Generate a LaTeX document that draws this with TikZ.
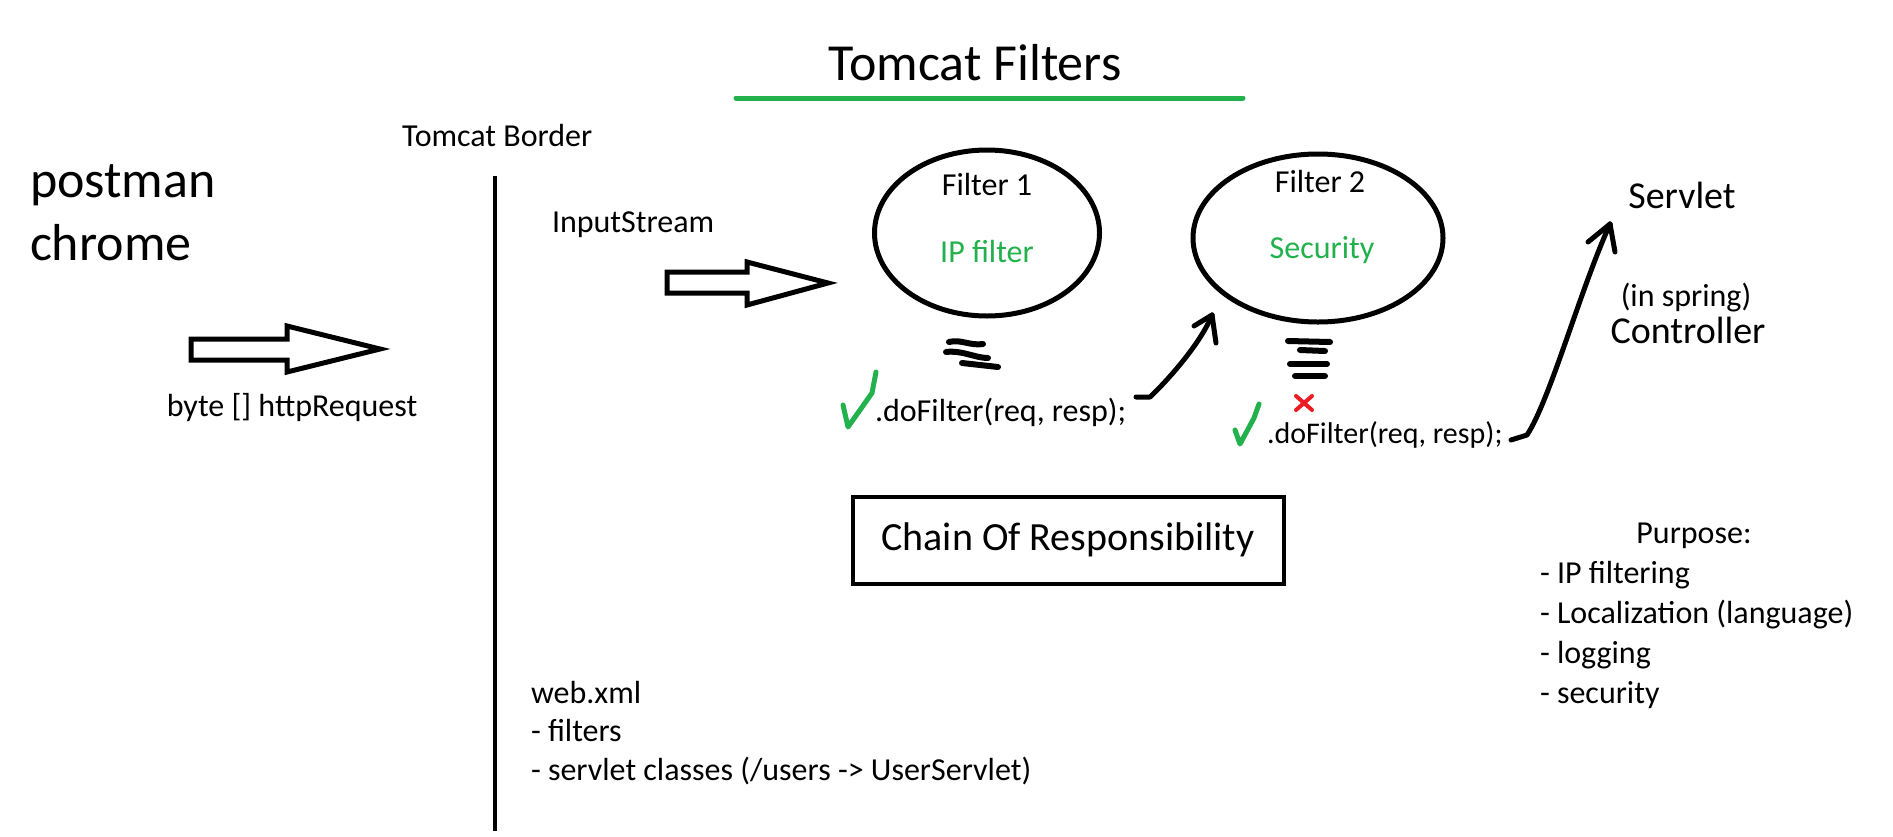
\documentclass[tikz,border=0pt]{standalone}
\usepackage{fontspec}
\setmainfont{Carlito}
\usetikzlibrary{shapes.geometric}
\definecolor{pgreen}{RGB}{34,177,76}
\definecolor{pred}{RGB}{237,28,36}
\newcommand\fsz[2]{\fontsize{#1}{#2}\selectfont}
\begin{document}
\begin{tikzpicture}[x=1pt,y=-1pt,
  txt/.style={inner sep=0pt,outer sep=0pt},
  t32/.style={txt,font=\fsz{32}{40}},
  t30/.style={txt,font=\fsz{30}{38}},
  t38/.style={txt,font=\fsz{38}{46}},
  t52/.style={txt,font=\fsz{52}{62}},
  stroke/.style={line width=5pt,line cap=round,line join=round},
  blockarrow/.style={draw,line width=5pt,line join=miter,fill=white},
  filterell/.style={ellipse,draw,line width=5pt,inner sep=0pt},
  squig/.style={line width=6pt,line cap=round},
  tick/.style={draw=pgreen,line width=5pt,line cap=round,line join=round},
  cross/.style={draw=pred,line width=4pt,line cap=round}]
\useasboundingbox (0,0) rectangle (1893,836);
\fill[white] (0,0) rectangle (1893,836);

% title
\node[t52,anchor=base] (title) at (975,80) {Tomcat Filters};
\coordinate (ulL) at (736,98);
\coordinate (ulR) at (1243,98);
\draw[draw=pgreen,line width=5pt,line cap=round] (ulL) -- (ulR);

% left side
\node[t52,anchor=base west] (postman) at (30,197) {postman};
\node[t52,anchor=base west] (chrome) at (30,260) {chrome};
\draw[blockarrow] (191,339) -- (287,339) -- (287,326) -- (380,349) -- (287,372) -- (287,360) -- (191,360) -- cycle;
\node[t32,anchor=base] (bytes) at (292,416) {byte [] httpRequest};

% border
\node[t32,anchor=base west] (border) at (402,146) {Tomcat Border};
\coordinate (bt) at (495,176);
\coordinate (bb) at (495,831);
\draw[line width=4pt] (bt) -- (bb);

\node[t32,anchor=base west] (istream) at (552,232) {InputStream};
\draw[blockarrow] (667,272) -- (747,272) -- (747,262) -- (828,283) -- (747,305) -- (747,293) -- (667,293) -- cycle;

% filters
\node[filterell,minimum width=225pt,minimum height=166pt] (f1) at (987,233) {};
\node[t32,anchor=base] (f1name) at (987,195) {Filter 1};
\node[t32,anchor=base,text=pgreen] (f1type) at (987,262) {IP filter};

\node[filterell,minimum width=250pt,minimum height=168pt] (f2) at (1318,238) {};
\node[t32,anchor=base] (f2name) at (1320,192) {Filter 2};
\node[t32,anchor=base,text=pgreen] (f2type) at (1322,258) {Security};

% squiggles
\draw[squig] (949,342) .. controls (961,339) and (970,346) .. (983,344);
\draw[squig] (946,352) .. controls (962,350) and (975,358) .. (988,358);
\draw[squig] (962,363) -- (998,367);

\draw[squig] (1288,341) -- (1330,342);
\draw[squig] (1300,350) -- (1325,351);
\draw[squig] (1290,364) -- (1327,364);
\draw[squig] (1295,376) -- (1325,376);

% doFilter 1
\draw[tick] (843,405) -- (848,427) -- (872,393) -- (876,372);
\node[t32,anchor=base west] (do1) at (875,421) {.doFilter(req, resp);};

% doFilter 2
\draw[cross] (1296,396) -- (1312,410);
\draw[cross] (1312,396) -- (1296,410);
\draw[tick] (1235,430) -- (1240,444) -- (1254,418) -- (1259,404);
\node[t30,anchor=base west] (do2) at (1267,443) {.doFilter(req, resp);};

% curved arrows
\coordinate (a1s) at (1136,397);
\coordinate (a1t) at (1212,315);
\draw[stroke] (a1s) -- (1150,397) .. controls (1165,383) and (1200,345) .. (a1t);
\draw[stroke] (a1t) -- ++(-18,11);
\draw[stroke] (a1t) -- ++(4,28);

\coordinate (a2s) at (1511,440);
\coordinate (a2t) at (1610,224);
\draw[stroke] (a2s) -- (1527,435) .. controls (1550,400) and (1580,290) .. (a2t);
\draw[stroke] (a2t) -- ++(-22,18);
\draw[stroke] (a2t) -- ++(5,28);

% servlet
\node[t38,anchor=base] (servlet) at (1682,208) {Servlet};
\node[t32,anchor=base] (spring) at (1686,306) {(in spring)};
\node[t38,anchor=base] (ctrl) at (1688,343) {Controller};

% chain box
\node[draw,line width=4pt,minimum width=431pt,minimum height=87pt,inner sep=0pt,font=\fsz{40}{48}] (chain) at (1068,540) {Chain Of Responsibility};

% purpose
\node[t32,anchor=base] (purpose) at (1694,543) {Purpose:};
\node[t32,anchor=base west] (p1) at (1540,583) {- IP filtering};
\node[t32,anchor=base west] (p2) at (1540,623) {- Localization (language)};
\node[t32,anchor=base west] (p3) at (1540,663) {- logging};
\node[t32,anchor=base west] (p4) at (1540,703) {- security};

% web.xml
\node[t32,anchor=base west] (w1) at (531,703) {web.xml};
\node[t32,anchor=base west] (w2) at (531,741) {- filters};
\node[t32,anchor=base west] (w3) at (531,780) {- servlet classes (/users -> UserServlet)};
\end{tikzpicture}
\end{document}
